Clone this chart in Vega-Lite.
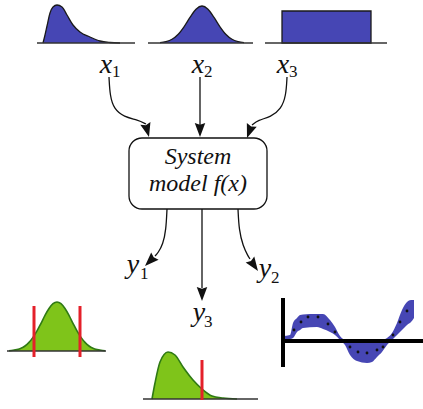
{
  "$schema": "https://vega.github.io/schema/vega-lite/v6.json",
  "width": 423,
  "height": 409,
  "padding": 0,
  "autosize": "none",
  "background": "white",
  "config": {"view": {"stroke": null}},
  "layer": [
    {
      "data": {"values": [
        {"shape": "x1", "x": 43, "y": 43}, {"shape": "x1", "x": 45, "y": 35}, {"shape": "x1", "x": 47, "y": 26}, {"shape": "x1", "x": 50, "y": 13}, {"shape": "x1", "x": 53, "y": 7}, {"shape": "x1", "x": 57, "y": 5}, {"shape": "x1", "x": 62, "y": 7}, {"shape": "x1", "x": 67, "y": 15}, {"shape": "x1", "x": 73, "y": 25}, {"shape": "x1", "x": 80, "y": 32}, {"shape": "x1", "x": 90, "y": 37}, {"shape": "x1", "x": 100, "y": 41}, {"shape": "x1", "x": 110, "y": 42.5}, {"shape": "x1", "x": 120, "y": 43},
        {"shape": "x2", "x": 160, "y": 42.6}, {"shape": "x2", "x": 166, "y": 41.6}, {"shape": "x2", "x": 172, "y": 39.3}, {"shape": "x2", "x": 178, "y": 34.5}, {"shape": "x2", "x": 184, "y": 26.8}, {"shape": "x2", "x": 190, "y": 17.4}, {"shape": "x2", "x": 196, "y": 9.2}, {"shape": "x2", "x": 202, "y": 6}, {"shape": "x2", "x": 208, "y": 9.2}, {"shape": "x2", "x": 214, "y": 17.4}, {"shape": "x2", "x": 220, "y": 26.8}, {"shape": "x2", "x": 226, "y": 34.5}, {"shape": "x2", "x": 232, "y": 39.3}, {"shape": "x2", "x": 238, "y": 41.6}, {"shape": "x2", "x": 244, "y": 42.6}
      ]},
      "mark": {"type": "area", "interpolate": "monotone", "color": "#4646b4", "opacity": 1, "line": {"color": "#1a1a1a", "strokeWidth": 1.3}},
      "encoding": {
        "x": {"field": "x", "type": "quantitative", "scale": {"domain": [0, 423]}, "axis": null},
        "y": {"field": "y", "type": "quantitative", "scale": {"domain": [0, 409], "reverse": true, "zero": false, "nice": false}, "axis": null},
        "y2": {"datum": 43},
        "detail": {"field": "shape"}
      }
    },
    {
      "data": {"values": [{"x": 282, "x2": 371, "y": 11, "y2": 43}]},
      "mark": {"type": "rect", "color": "#4646b4", "opacity": 1, "stroke": "#1a1a1a", "strokeWidth": 1.3},
      "encoding": {
        "x": {"field": "x", "type": "quantitative", "scale": {"domain": [0, 423]}, "axis": null},
        "x2": {"field": "x2"},
        "y": {"field": "y", "type": "quantitative", "scale": {"domain": [0, 409], "reverse": true, "zero": false, "nice": false}, "axis": null},
        "y2": {"field": "y2"}
      }
    },
    {
      "data": {"values": [
        {"shape": "g1", "x": 9, "y": 350.7, "base": 351}, {"shape": "g1", "x": 13, "y": 350.3, "base": 351}, {"shape": "g1", "x": 17, "y": 349.6, "base": 351}, {"shape": "g1", "x": 21, "y": 348.3, "base": 351}, {"shape": "g1", "x": 25, "y": 346, "base": 351}, {"shape": "g1", "x": 29, "y": 342.4, "base": 351}, {"shape": "g1", "x": 33, "y": 337.4, "base": 351}, {"shape": "g1", "x": 37, "y": 330.9, "base": 351}, {"shape": "g1", "x": 41, "y": 323.3, "base": 351}, {"shape": "g1", "x": 45, "y": 315.4, "base": 351}, {"shape": "g1", "x": 49, "y": 308.5, "base": 351}, {"shape": "g1", "x": 53, "y": 303.7, "base": 351}, {"shape": "g1", "x": 57, "y": 302, "base": 351}, {"shape": "g1", "x": 61, "y": 303.7, "base": 351}, {"shape": "g1", "x": 65, "y": 308.5, "base": 351}, {"shape": "g1", "x": 69, "y": 315.4, "base": 351}, {"shape": "g1", "x": 73, "y": 323.3, "base": 351}, {"shape": "g1", "x": 77, "y": 330.9, "base": 351}, {"shape": "g1", "x": 81, "y": 337.4, "base": 351}, {"shape": "g1", "x": 85, "y": 342.4, "base": 351}, {"shape": "g1", "x": 89, "y": 346, "base": 351}, {"shape": "g1", "x": 93, "y": 348.3, "base": 351}, {"shape": "g1", "x": 97, "y": 349.6, "base": 351}, {"shape": "g1", "x": 101, "y": 350.3, "base": 351}, {"shape": "g1", "x": 105, "y": 350.7, "base": 351},
        {"shape": "g2", "x": 152, "y": 399, "base": 399}, {"shape": "g2", "x": 155, "y": 383, "base": 399}, {"shape": "g2", "x": 160, "y": 362, "base": 399}, {"shape": "g2", "x": 168, "y": 352, "base": 399}, {"shape": "g2", "x": 175, "y": 355, "base": 399}, {"shape": "g2", "x": 183, "y": 367, "base": 399}, {"shape": "g2", "x": 193, "y": 380, "base": 399}, {"shape": "g2", "x": 202, "y": 389, "base": 399}, {"shape": "g2", "x": 212, "y": 396, "base": 399}, {"shape": "g2", "x": 223, "y": 398, "base": 399}, {"shape": "g2", "x": 237, "y": 399, "base": 399}
      ]},
      "mark": {"type": "area", "interpolate": "monotone", "color": "#7fc41a", "opacity": 1, "line": {"color": "#2f7a14", "strokeWidth": 1.6}},
      "encoding": {
        "x": {"field": "x", "type": "quantitative", "scale": {"domain": [0, 423]}, "axis": null},
        "y": {"field": "y", "type": "quantitative", "scale": {"domain": [0, 409], "reverse": true, "zero": false, "nice": false}, "axis": null},
        "y2": {"field": "base"},
        "detail": {"field": "shape"}
      }
    },
    {
      "data": {"values": [
        {"x": 283, "hi": 336, "lo": 339}, {"x": 290, "hi": 335, "lo": 339}, {"x": 293, "hi": 323, "lo": 338}, {"x": 297, "hi": 318, "lo": 332}, {"x": 300, "hi": 315, "lo": 330}, {"x": 303, "hi": 314.5, "lo": 328}, {"x": 317, "hi": 314, "lo": 327}, {"x": 323, "hi": 314, "lo": 329}, {"x": 330, "hi": 320, "lo": 332}, {"x": 335, "hi": 327, "lo": 335}, {"x": 340, "hi": 336, "lo": 340}, {"x": 345, "hi": 340, "lo": 345}, {"x": 350, "hi": 341, "lo": 355}, {"x": 357, "hi": 341, "lo": 361}, {"x": 367, "hi": 341, "lo": 363}, {"x": 372, "hi": 341, "lo": 362}, {"x": 377, "hi": 341, "lo": 357}, {"x": 382, "hi": 340, "lo": 352}, {"x": 387, "hi": 338, "lo": 345}, {"x": 392, "hi": 333, "lo": 340}, {"x": 397, "hi": 323, "lo": 335}, {"x": 402, "hi": 310, "lo": 330}, {"x": 407, "hi": 302, "lo": 325}, {"x": 411, "hi": 300, "lo": 322}, {"x": 414, "hi": 300, "lo": 318}
      ]},
      "mark": {"type": "area", "interpolate": "monotone", "color": "#4646b4", "opacity": 1},
      "encoding": {
        "x": {"field": "x", "type": "quantitative", "scale": {"domain": [0, 423]}, "axis": null},
        "y": {"field": "hi", "type": "quantitative", "scale": {"domain": [0, 409], "reverse": true, "zero": false, "nice": false}, "axis": null},
        "y2": {"field": "lo"}
      }
    },
    {
      "data": {"values": [
        {"x": 294, "y": 330}, {"x": 301, "y": 322}, {"x": 308, "y": 317}, {"x": 318, "y": 317}, {"x": 328, "y": 324}, {"x": 335, "y": 332}, {"x": 350, "y": 347}, {"x": 358, "y": 352}, {"x": 367, "y": 353}, {"x": 377, "y": 350}, {"x": 383, "y": 347}, {"x": 393, "y": 335}, {"x": 400, "y": 322}, {"x": 407, "y": 311}
      ]},
      "mark": {"type": "point", "filled": true, "color": "#111", "size": 8, "opacity": 1},
      "encoding": {
        "x": {"field": "x", "type": "quantitative", "scale": {"domain": [0, 423]}, "axis": null},
        "y": {"field": "y", "type": "quantitative", "scale": {"domain": [0, 409], "reverse": true, "zero": false, "nice": false}, "axis": null}
      }
    },
    {
      "data": {"values": [
        {"x": 37, "x2": 135, "y": 43}, {"x": 148, "x2": 253, "y": 43}, {"x": 265, "x2": 387, "y": 43}, {"x": 7, "x2": 106, "y": 351}, {"x": 143, "x2": 258, "y": 399}
      ]},
      "mark": {"type": "rule", "color": "#333", "strokeWidth": 1.6},
      "encoding": {
        "x": {"field": "x", "type": "quantitative", "scale": {"domain": [0, 423]}, "axis": null},
        "x2": {"field": "x2"},
        "y": {"field": "y", "type": "quantitative", "scale": {"domain": [0, 409], "reverse": true, "zero": false, "nice": false}, "axis": null}
      }
    },
    {
      "data": {"values": [
        {"x": 283, "x2": 283, "y": 298, "y2": 367}, {"x": 283, "x2": 423, "y": 341, "y2": 341}
      ]},
      "mark": {"type": "rule", "color": "#000", "strokeWidth": 4},
      "encoding": {
        "x": {"field": "x", "type": "quantitative", "scale": {"domain": [0, 423]}, "axis": null},
        "x2": {"field": "x2"},
        "y": {"field": "y", "type": "quantitative", "scale": {"domain": [0, 409], "reverse": true, "zero": false, "nice": false}, "axis": null},
        "y2": {"field": "y2"}
      }
    },
    {
      "data": {"values": [
        {"x": 34, "y": 306, "y2": 357}, {"x": 80, "y": 306, "y2": 357}, {"x": 202, "y": 360, "y2": 400}
      ]},
      "mark": {"type": "rule", "color": "#e4202a", "strokeWidth": 3},
      "encoding": {
        "x": {"field": "x", "type": "quantitative", "scale": {"domain": [0, 423]}, "axis": null},
        "y": {"field": "y", "type": "quantitative", "scale": {"domain": [0, 409], "reverse": true, "zero": false, "nice": false}, "axis": null},
        "y2": {"field": "y2"}
      }
    },
    {
      "data": {"values": [
        {"id": "a1", "o": 1, "x": 109, "y": 77}, {"id": "a1", "o": 2, "x": 110, "y": 96}, {"id": "a1", "o": 3, "x": 114, "y": 109}, {"id": "a1", "o": 4, "x": 124, "y": 117}, {"id": "a1", "o": 5, "x": 138, "y": 120}, {"id": "a1", "o": 6, "x": 146, "y": 124},
        {"id": "a2", "o": 1, "x": 200, "y": 77}, {"id": "a2", "o": 2, "x": 200, "y": 125},
        {"id": "a3", "o": 1, "x": 287, "y": 77}, {"id": "a3", "o": 2, "x": 286, "y": 96}, {"id": "a3", "o": 3, "x": 281, "y": 109}, {"id": "a3", "o": 4, "x": 271, "y": 117}, {"id": "a3", "o": 5, "x": 258, "y": 120}, {"id": "a3", "o": 6, "x": 252, "y": 125},
        {"id": "b1", "o": 1, "x": 167, "y": 209}, {"id": "b1", "o": 2, "x": 166, "y": 230}, {"id": "b1", "o": 3, "x": 163, "y": 244}, {"id": "b1", "o": 4, "x": 158, "y": 253}, {"id": "b1", "o": 5, "x": 155, "y": 256},
        {"id": "b2", "o": 1, "x": 238, "y": 209}, {"id": "b2", "o": 2, "x": 239, "y": 230}, {"id": "b2", "o": 3, "x": 243, "y": 246}, {"id": "b2", "o": 4, "x": 248, "y": 256}, {"id": "b2", "o": 5, "x": 250, "y": 259},
        {"id": "b3", "o": 1, "x": 202, "y": 209}, {"id": "b3", "o": 2, "x": 202, "y": 288}
      ]},
      "mark": {"type": "line", "interpolate": "basis", "color": "#111", "strokeWidth": 1.3},
      "encoding": {
        "x": {"field": "x", "type": "quantitative", "scale": {"domain": [0, 423]}, "axis": null},
        "y": {"field": "y", "type": "quantitative", "scale": {"domain": [0, 409], "reverse": true, "zero": false, "nice": false}, "axis": null},
        "detail": {"field": "id"},
        "order": {"field": "o", "type": "quantitative"}
      }
    },
    {
      "data": {"values": [
        {"x": 149, "y": 137, "a": -15}, {"x": 200, "y": 137, "a": 0}, {"x": 247, "y": 138, "a": 20},
        {"x": 145, "y": 266, "a": 45}, {"x": 258, "y": 271, "a": -35}, {"x": 202, "y": 301, "a": 0}
      ]},
      "mark": {"type": "point", "filled": true, "color": "#111", "opacity": 1, "size": 196, "shape": "M0,0L-0.75,-2L0,-1.75L0.75,-2Z"},
      "encoding": {
        "x": {"field": "x", "type": "quantitative", "scale": {"domain": [0, 423]}, "axis": null},
        "y": {"field": "y", "type": "quantitative", "scale": {"domain": [0, 409], "reverse": true, "zero": false, "nice": false}, "axis": null},
        "angle": {"field": "a", "type": "quantitative", "scale": null}
      }
    },
    {
      "data": {"values": [{"x": 129, "x2": 267, "y": 138, "y2": 209}]},
      "mark": {"type": "rect", "fill": "white", "opacity": 1, "stroke": "#111", "strokeWidth": 1.3, "cornerRadius": 13},
      "encoding": {
        "x": {"field": "x", "type": "quantitative", "scale": {"domain": [0, 423]}, "axis": null},
        "x2": {"field": "x2"},
        "y": {"field": "y", "type": "quantitative", "scale": {"domain": [0, 409], "reverse": true, "zero": false, "nice": false}, "axis": null},
        "y2": {"field": "y2"}
      }
    },
    {
      "data": {"values": [
        {"t": "System", "x": 198, "y": 164}, {"t": "model f(x)", "x": 198, "y": 191}
      ]},
      "mark": {"type": "text", "font": "Liberation Serif", "fontStyle": "italic", "fontSize": 24, "align": "center", "baseline": "alphabetic", "color": "#111"},
      "encoding": {
        "x": {"field": "x", "type": "quantitative", "scale": {"domain": [0, 423]}, "axis": null},
        "y": {"field": "y", "type": "quantitative", "scale": {"domain": [0, 409], "reverse": true, "zero": false, "nice": false}, "axis": null},
        "text": {"field": "t"}
      }
    },
    {
      "data": {"values": [
        {"t": "x", "x": 106, "y": 73}, {"t": "x", "x": 198, "y": 73}, {"t": "x", "x": 283, "y": 73},
        {"t": "y", "x": 133, "y": 273}, {"t": "y", "x": 265, "y": 277}, {"t": "y", "x": 199, "y": 321}
      ]},
      "mark": {"type": "text", "font": "Liberation Serif", "fontStyle": "italic", "fontSize": 28, "align": "center", "baseline": "alphabetic", "color": "#111"},
      "encoding": {
        "x": {"field": "x", "type": "quantitative", "scale": {"domain": [0, 423]}, "axis": null},
        "y": {"field": "y", "type": "quantitative", "scale": {"domain": [0, 409], "reverse": true, "zero": false, "nice": false}, "axis": null},
        "text": {"field": "t"}
      }
    },
    {
      "data": {"values": [
        {"t": "1", "x": 112, "y": 77}, {"t": "2", "x": 204, "y": 77}, {"t": "3", "x": 289, "y": 77},
        {"t": "1", "x": 140, "y": 279}, {"t": "2", "x": 271, "y": 283}, {"t": "3", "x": 204, "y": 327}
      ]},
      "mark": {"type": "text", "font": "Liberation Serif", "fontSize": 17, "align": "left", "baseline": "alphabetic", "color": "#111"},
      "encoding": {
        "x": {"field": "x", "type": "quantitative", "scale": {"domain": [0, 423]}, "axis": null},
        "y": {"field": "y", "type": "quantitative", "scale": {"domain": [0, 409], "reverse": true, "zero": false, "nice": false}, "axis": null},
        "text": {"field": "t"}
      }
    }
  ]
}
